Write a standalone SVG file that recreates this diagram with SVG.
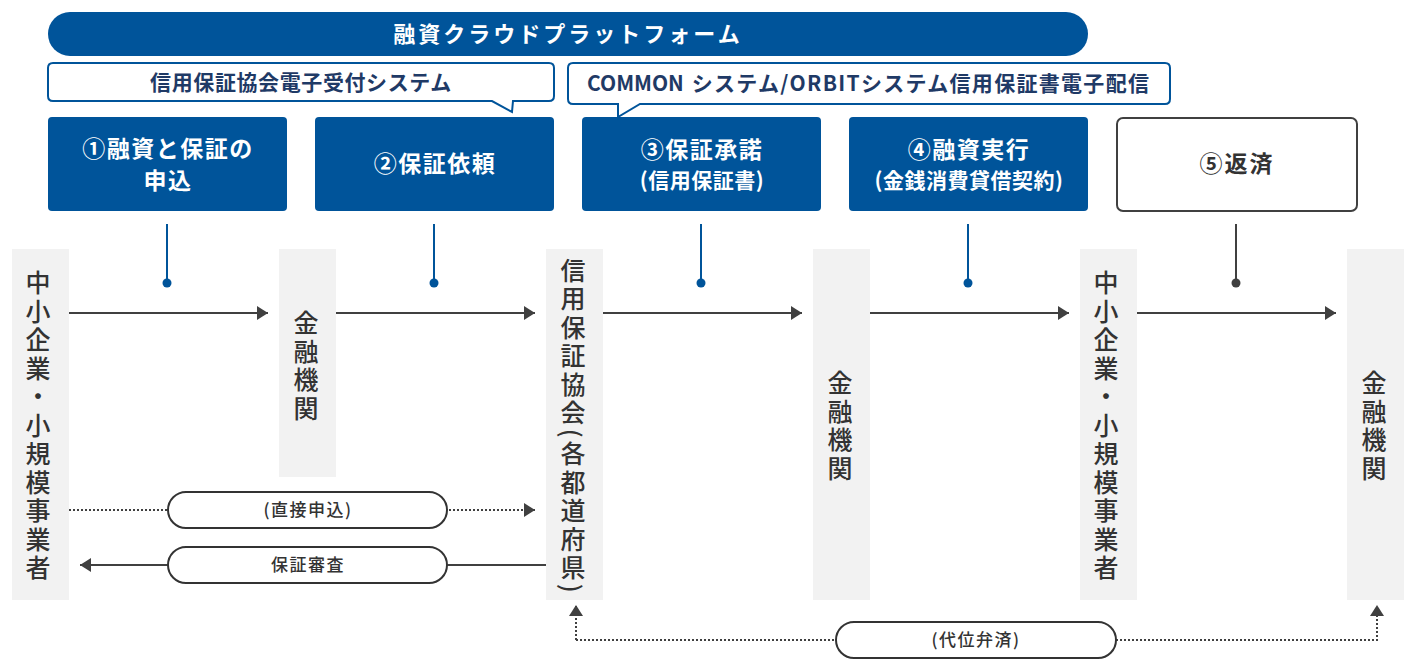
<svg xmlns="http://www.w3.org/2000/svg" width="1425" height="668" viewBox="0 0 1425 668">
<style>
text{font-family:"Noto Sans CJK JP","Noto Sans",sans-serif;}
.blue{fill:#00549a;}
.wt{fill:#fff;font-weight:bold;text-anchor:middle;}
.ct{fill:#1f3a66;font-weight:bold;text-anchor:middle;font-size:21px;}
.col{fill:#f2f2f2;}
.vt{fill:#333;font-size:25px;font-weight:500;text-anchor:middle;writing-mode:vertical-rl;letter-spacing:3.5px;}
.ln{stroke:#404040;stroke-width:2;fill:none;}
.dot{stroke:#404040;stroke-width:2;fill:none;stroke-dasharray:2 2;}
.bl{stroke:#00549a;stroke-width:2;fill:none;}
.pill{fill:#fff;stroke:#333;stroke-width:2;}
.pt{fill:#333;font-size:17px;font-weight:500;text-anchor:middle;letter-spacing:1.5px;}
</style>
<defs>
<marker id="ah" markerUnits="userSpaceOnUse" markerWidth="12" markerHeight="14" refX="11" refY="7" orient="auto">
<path d="M0,0 L11,7 L0,14 Z" fill="#404040"/>
</marker>
</defs>

<g id="banner">
<rect x="48" y="12" width="1040" height="44" rx="22" class="blue"/>
<text x="568" y="42" class="wt" font-size="22" letter-spacing="3">融資クラウドプラットフォーム</text>
</g>

<g id="callout1">
<path d="M53,63 H549 Q554,63 554,68 V96 Q554,101 549,101 H513 L512,112 L492,101 H53 Q48,101 48,96 V68 Q48,63 53,63 Z" fill="#fff" stroke="#00549a" stroke-width="2"/>
<text x="301" y="90" class="ct" letter-spacing="0.6">信用保証協会電子受付システム</text>
</g>

<g id="callout2">
<path d="M573,63 H1165 Q1170,63 1170,68 V99 Q1170,104 1165,104 H640 L618,117 L618,104 H573 Q568,104 568,99 V68 Q568,63 573,63 Z" fill="#fff" stroke="#00549a" stroke-width="2"/>
<text x="587" y="91" class="ct" style="text-anchor:start">COMMON <tspan dx="3" letter-spacing="1.3">システム/ORBITシステム信用保証書電子配信</tspan></text>
</g>

<g id="step1">
<rect x="48" y="117" width="239" height="94" rx="4" class="blue"/>
<text x="168" y="157" class="wt" font-size="23" letter-spacing="1.5">①融資と保証の</text>
<text x="168" y="189" class="wt" font-size="23" letter-spacing="1.5">申込</text>
</g>
<g id="step2">
<rect x="315" y="117" width="239" height="94" rx="4" class="blue"/>
<text x="435" y="172" class="wt" font-size="23" letter-spacing="1.5">②保証依頼</text>
</g>
<g id="step3">
<rect x="582" y="117" width="239" height="94" rx="4" class="blue"/>
<text x="702" y="158" class="wt" font-size="23" letter-spacing="1.5">③保証承諾</text>
<text x="702" y="188" class="wt" font-size="21" letter-spacing="0.5">(信用保証書)</text>
</g>
<g id="step4">
<rect x="849" y="117" width="239" height="94" rx="4" class="blue"/>
<text x="969" y="158" class="wt" font-size="23" letter-spacing="1.5">④融資実行</text>
<text x="969" y="188" class="wt" font-size="21" letter-spacing="0.5">(金銭消費貸借契約)</text>
</g>
<g id="step5">
<rect x="1117" y="118" width="240" height="93" rx="6" fill="#fff" stroke="#404040" stroke-width="2"/>
<text x="1237" y="172" font-size="23" font-weight="bold" fill="#333" text-anchor="middle" letter-spacing="2">⑤返済</text>
</g>

<g id="colA">
<rect x="12" y="249" width="57" height="351" class="col"/>
<text x="38" y="427" class="vt">中小企業・小規模事業者</text>
</g>
<g id="colB">
<rect x="279" y="249" width="57" height="228" class="col"/>
<text x="306" y="367" class="vt">金融機関</text>
</g>
<g id="colC">
<rect x="546" y="249" width="57" height="351" class="col"/>
<text x="573" y="427" class="vt">信用保証協会(各都道府県)</text>
</g>
<g id="colD">
<rect x="813" y="249" width="57" height="351" class="col"/>
<text x="840" y="427" class="vt">金融機関</text>
</g>
<g id="colE">
<rect x="1080" y="249" width="57" height="351" class="col"/>
<text x="1106" y="427" class="vt">中小企業・小規模事業者</text>
</g>
<g id="colF">
<rect x="1347" y="249" width="57" height="351" class="col"/>
<text x="1374" y="427" class="vt">金融機関</text>
</g>

<g id="connectors">
<line x1="167" y1="224" x2="167" y2="283" class="bl"/><circle cx="167" cy="283" r="4.5" fill="#00549a"/>
<line x1="434" y1="224" x2="434" y2="283" class="bl"/><circle cx="434" cy="283" r="4.5" fill="#00549a"/>
<line x1="701" y1="224" x2="701" y2="283" class="bl"/><circle cx="701" cy="283" r="4.5" fill="#00549a"/>
<line x1="968" y1="224" x2="968" y2="283" class="bl"/><circle cx="968" cy="283" r="4.5" fill="#00549a"/>
<line x1="1236" y1="224" x2="1236" y2="283" class="ln"/><circle cx="1236" cy="283" r="4.5" fill="#404040"/>

<line x1="69" y1="313" x2="268" y2="313" class="ln" marker-end="url(#ah)"/>
<line x1="336" y1="313" x2="535" y2="313" class="ln" marker-end="url(#ah)"/>
<line x1="603" y1="313" x2="802" y2="313" class="ln" marker-end="url(#ah)"/>
<line x1="870" y1="313" x2="1069" y2="313" class="ln" marker-end="url(#ah)"/>
<line x1="1137" y1="313" x2="1336" y2="313" class="ln" marker-end="url(#ah)"/>

<line x1="69" y1="510" x2="535" y2="510" class="dot" marker-end="url(#ah)"/>
<line x1="546" y1="565" x2="80" y2="565" class="ln" marker-end="url(#ah)"/>
<path d="M576,640 V605" class="dot" marker-end="url(#ah)"/>
<path d="M576,640 H1377 V605" class="dot" marker-end="url(#ah)"/>
</g>

<g id="label-direct">
<rect x="168" y="492" width="279" height="36" rx="18" class="pill"/>
<text x="308" y="516" class="pt">(直接申込)</text>
</g>
<g id="label-review">
<rect x="168" y="547" width="279" height="36" rx="18" class="pill"/>
<text x="308" y="571" class="pt">保証審査</text>
</g>
<g id="label-subrogation">
<rect x="836" y="622" width="280" height="36" rx="18" class="pill"/>
<text x="976" y="646" class="pt">(代位弁済)</text>
</g>
</svg>
